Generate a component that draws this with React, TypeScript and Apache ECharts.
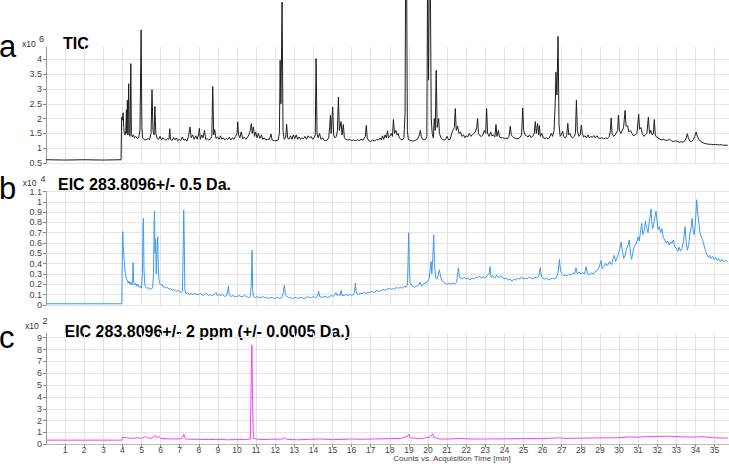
import React, { useEffect, useRef } from 'react';
import * as echarts from 'echarts';

// ---- Data (time in min, counts in panel units) ----
const ticData: [number, number][] = [
  [0, 0.61], [1, 0.6], [2, 0.61], [3, 0.6], [3.93, 0.61],
  [3.96, 2.05], [4.0, 1.95], [4.04, 2.2], [4.07, 1.7], [4.1, 1.5], [4.14, 1.45], [4.18, 1.6], [4.21, 2.3], [4.23, 1.5], [4.26, 2.62], [4.29, 1.45], [4.33, 3.18], [4.36, 1.5], [4.4, 1.4], [4.44, 3.86], [4.47, 1.5], [4.52, 1.38], [4.58, 1.45], [4.63, 1.35], [4.7, 1.4], [4.78, 1.33], [4.85, 1.35], [4.92, 1.6], [4.98, 5.0], [5.02, 1.7], [5.06, 1.35], [5.12, 1.3], [5.2, 1.28], [5.28, 1.3], [5.35, 1.33], [5.42, 1.28], [5.5, 1.5], [5.55, 2.98], [5.6, 1.6], [5.66, 1.45], [5.7, 2.41], [5.75, 1.5], [5.82, 1.33], [5.9, 1.3], [5.97, 1.4],
  [6.05, 1.28], [6.12, 1.35], [6.2, 1.3], [6.28, 1.27], [6.36, 1.32], [6.44, 1.3], [6.48, 1.66], [6.52, 1.3], [6.6, 1.26], [6.68, 1.36], [6.75, 1.28], [6.83, 1.35], [6.9, 1.25], [6.98, 1.3], [7.06, 1.26], [7.14, 1.38], [7.22, 1.27], [7.3, 1.3], [7.38, 1.24], [7.46, 1.4], [7.54, 1.72], [7.6, 1.35], [7.68, 1.45], [7.76, 1.3], [7.84, 1.42], [7.92, 1.3], [8.0, 1.5], [8.03, 1.67], [8.08, 1.3], [8.15, 1.45], [8.22, 1.35], [8.3, 1.6], [8.36, 1.3], [8.44, 1.32], [8.52, 1.28], [8.6, 1.3], [8.68, 1.4], [8.73, 3.09], [8.78, 1.45], [8.83, 1.63], [8.9, 1.33], [8.98, 1.38],
  [9.06, 1.3], [9.14, 1.42], [9.2, 1.3], [9.28, 1.35], [9.36, 1.28], [9.44, 1.33], [9.52, 1.3], [9.6, 1.37], [9.68, 1.28], [9.76, 1.35], [9.84, 1.3], [9.92, 1.4], [10.0, 1.5], [10.04, 1.89], [10.08, 1.45], [10.15, 1.35], [10.22, 1.55], [10.3, 1.32], [10.38, 1.38], [10.46, 1.3], [10.54, 1.36], [10.62, 1.45], [10.7, 1.6], [10.75, 1.83], [10.8, 1.5], [10.86, 1.72], [10.92, 1.4], [10.98, 1.55], [11.05, 1.35], [11.12, 1.5], [11.2, 1.33], [11.28, 1.45], [11.35, 1.3], [11.42, 1.35], [11.5, 1.28], [11.6, 1.3], [11.7, 1.3], [11.78, 1.48], [11.84, 1.28], [11.95, 1.26],
  [12.05, 1.25], [12.15, 1.27], [12.22, 1.5], [12.26, 3.97], [12.3, 2.5], [12.36, 5.94], [12.41, 1.6], [12.47, 1.3], [12.55, 1.35], [12.6, 1.81], [12.65, 1.35], [12.72, 1.3], [12.8, 1.42], [12.88, 1.3], [12.95, 1.45], [13.02, 1.32], [13.1, 1.45], [13.17, 1.3], [13.25, 1.38], [13.32, 1.3], [13.4, 1.35], [13.48, 1.32], [13.56, 1.4], [13.64, 1.3], [13.72, 1.42], [13.8, 1.35], [13.88, 1.4], [13.96, 1.3],
  [14.04, 1.35], [14.1, 1.45], [14.14, 4.03], [14.19, 1.5], [14.25, 1.35], [14.32, 1.5], [14.4, 1.3], [14.48, 1.35], [14.56, 1.27], [14.64, 1.25], [14.72, 1.28], [14.8, 1.35], [14.85, 1.7], [14.89, 2.11], [14.93, 1.5], [15.01, 2.39], [15.06, 1.45], [15.13, 1.35], [15.2, 1.4], [15.26, 1.6], [15.31, 2.73], [15.36, 1.6], [15.45, 1.9], [15.5, 1.45], [15.57, 1.8], [15.62, 1.35], [15.7, 1.3], [15.8, 1.27], [15.9, 1.3],
  [16.0, 1.26], [16.1, 1.28], [16.2, 1.25], [16.3, 1.28], [16.4, 1.26], [16.5, 1.3], [16.6, 1.27], [16.72, 1.4], [16.77, 1.77], [16.82, 1.35], [16.9, 1.25], [17.0, 1.23], [17.1, 1.27], [17.2, 1.24], [17.3, 1.3], [17.4, 1.27], [17.5, 1.35], [17.56, 1.28], [17.62, 1.42], [17.68, 1.3], [17.75, 1.45], [17.82, 1.35], [17.88, 1.59], [17.93, 1.35],
  [18.0, 1.4], [18.08, 1.5], [18.14, 1.4], [18.19, 1.97], [18.25, 1.5], [18.32, 1.6], [18.38, 1.45], [18.44, 1.5], [18.5, 1.35], [18.58, 1.3], [18.66, 1.28], [18.74, 1.35], [18.8, 2.2], [18.83, 7.0], [18.88, 7.0], [18.92, 1.6], [18.97, 1.3], [19.05, 1.27], [19.15, 1.25], [19.25, 1.24], [19.35, 1.27], [19.45, 1.3], [19.55, 1.45], [19.6, 1.6], [19.65, 1.4], [19.72, 1.3], [19.8, 1.28], [19.88, 1.3], [19.94, 1.4],
  [19.98, 7.0], [20.03, 3.3], [20.07, 7.0], [20.12, 7.0], [20.17, 2.0], [20.22, 1.5], [20.28, 1.35], [20.33, 2.0], [20.38, 1.6], [20.43, 3.63], [20.48, 1.7], [20.56, 2.0], [20.6, 1.5], [20.68, 1.35], [20.76, 1.3], [20.84, 1.27], [20.92, 1.3], [21.0, 1.4], [21.08, 1.28], [21.16, 1.3], [21.24, 1.5], [21.3, 1.6], [21.38, 1.7], [21.43, 2.34], [21.48, 1.6], [21.55, 1.75], [21.62, 1.5], [21.7, 1.55], [21.78, 1.4], [21.86, 1.45], [21.94, 1.35],
  [22.0, 1.42], [22.08, 1.38], [22.16, 1.5], [22.24, 1.4], [22.32, 1.45], [22.4, 1.5], [22.48, 1.55], [22.55, 1.7], [22.6, 2.0], [22.64, 1.5], [22.72, 1.42], [22.8, 1.4], [22.88, 1.45], [22.95, 1.6], [23.02, 1.5], [23.07, 2.34], [23.12, 1.5], [23.2, 1.4], [23.28, 1.55], [23.34, 1.42], [23.42, 1.45], [23.5, 1.38], [23.56, 1.8], [23.61, 1.4], [23.69, 1.6], [23.74, 1.38], [23.82, 1.35], [23.9, 1.36],
  [24.0, 1.33], [24.08, 1.34], [24.16, 1.32], [24.24, 1.4], [24.31, 1.75], [24.36, 1.45], [24.42, 1.4], [24.5, 1.35], [24.6, 1.33], [24.7, 1.32], [24.8, 1.35], [24.9, 1.45], [24.96, 2.36], [25.01, 1.6], [25.08, 1.45], [25.16, 1.42], [25.24, 1.38], [25.32, 1.45], [25.4, 1.36], [25.48, 1.4], [25.56, 1.5], [25.62, 1.9], [25.67, 1.5], [25.74, 1.84], [25.79, 1.45], [25.83, 1.76], [25.88, 1.4], [25.96, 1.5],
  [26.04, 1.35], [26.12, 1.33], [26.2, 1.35], [26.28, 1.32], [26.36, 1.36], [26.42, 1.45], [26.46, 1.5], [26.52, 1.4], [26.6, 1.6], [26.66, 2.5], [26.7, 3.57], [26.75, 2.8], [26.81, 4.78], [26.86, 1.8], [26.92, 1.4], [26.98, 1.45], [27.05, 1.57], [27.1, 1.4], [27.18, 1.35], [27.26, 1.42], [27.32, 1.84], [27.37, 1.45], [27.44, 1.5], [27.5, 1.38], [27.58, 1.35], [27.66, 1.4], [27.72, 1.5], [27.77, 2.62], [27.82, 1.6], [27.9, 1.4], [27.97, 1.45],
  [28.03, 1.78], [28.08, 1.5], [28.15, 1.38], [28.22, 1.42], [28.3, 1.35], [28.38, 1.45], [28.45, 1.35], [28.52, 1.4], [28.6, 1.36], [28.68, 1.43], [28.76, 1.35], [28.84, 1.42], [28.92, 1.35], [29.0, 1.33], [29.1, 1.35], [29.2, 1.32], [29.3, 1.34], [29.4, 1.33], [29.5, 1.4], [29.55, 1.6], [29.59, 2.02], [29.64, 1.5], [29.72, 1.4], [29.8, 1.45], [29.88, 1.55], [29.93, 1.6], [29.97, 2.11],
  [30.02, 1.6], [30.1, 1.5], [30.17, 1.6], [30.24, 1.7], [30.32, 2.28], [30.37, 1.75], [30.45, 1.76], [30.52, 1.55], [30.6, 1.6], [30.68, 1.5], [30.76, 1.42], [30.85, 1.45], [30.94, 1.5], [31.03, 2.15], [31.08, 1.64], [31.15, 1.7], [31.22, 1.5], [31.3, 1.4], [31.38, 1.45], [31.46, 1.5], [31.54, 2.05], [31.6, 1.5], [31.66, 1.6], [31.74, 1.45], [31.8, 1.5], [31.85, 1.97], [31.9, 1.45], [31.96, 1.38],
  [32.05, 1.35], [32.15, 1.3], [32.25, 1.28], [32.35, 1.3], [32.45, 1.26], [32.55, 1.27], [32.65, 1.3], [32.75, 1.25], [32.85, 1.22], [32.95, 1.25], [33.05, 1.23], [33.15, 1.2], [33.25, 1.22], [33.35, 1.2], [33.45, 1.25], [33.52, 1.35], [33.58, 1.49], [33.63, 1.35], [33.72, 1.24], [33.8, 1.22], [33.9, 1.3], [33.97, 1.4],
  [34.04, 1.55], [34.1, 1.4], [34.18, 1.3], [34.26, 1.24], [34.35, 1.2], [34.45, 1.17], [34.55, 1.15], [34.65, 1.14], [34.75, 1.13], [34.85, 1.13], [34.95, 1.12], [35.05, 1.13], [35.15, 1.12], [35.25, 1.11], [35.35, 1.12], [35.45, 1.1], [35.55, 1.1], [35.7, 1.1],
];

const eicWideData: [number, number][] = [
  [0, 0.01], [3.97, 0.01], [4.0, 0.6], [4.02, 0.71], [4.05, 0.55], [4.08, 0.47], [4.12, 0.36], [4.16, 0.3], [4.2, 0.26], [4.25, 0.24], [4.3, 0.21], [4.35, 0.23], [4.4, 0.2], [4.45, 0.22], [4.5, 0.19], [4.53, 0.25], [4.56, 0.41], [4.59, 0.22], [4.64, 0.19], [4.7, 0.21], [4.76, 0.18], [4.82, 0.2], [4.88, 0.17], [4.94, 0.18],
  [5.0, 0.16], [5.05, 0.3], [5.08, 0.77], [5.1, 0.84], [5.13, 0.35], [5.17, 0.2], [5.22, 0.17], [5.28, 0.16], [5.34, 0.17], [5.4, 0.15], [5.46, 0.16], [5.52, 0.15], [5.58, 0.17], [5.63, 0.3], [5.66, 0.8], [5.68, 0.91], [5.71, 0.5], [5.74, 0.64], [5.77, 0.3], [5.81, 0.5], [5.85, 0.66], [5.88, 0.35], [5.92, 0.24], [5.97, 0.2],
  [6.02, 0.19], [6.08, 0.2], [6.14, 0.17], [6.2, 0.18], [6.28, 0.16], [6.36, 0.17], [6.44, 0.15], [6.52, 0.16], [6.6, 0.14], [6.68, 0.15], [6.76, 0.14], [6.84, 0.13], [6.92, 0.14], [7.0, 0.13], [7.08, 0.12], [7.14, 0.13], [7.18, 0.5], [7.21, 0.92], [7.24, 0.6], [7.27, 0.15], [7.32, 0.11], [7.4, 0.12], [7.5, 0.1], [7.6, 0.11], [7.7, 0.1], [7.8, 0.11], [7.9, 0.1],
  [8.0, 0.1], [8.1, 0.11], [8.2, 0.09], [8.3, 0.1], [8.4, 0.11], [8.5, 0.09], [8.6, 0.1], [8.7, 0.09], [8.8, 0.1], [8.9, 0.12], [8.96, 0.09], [9.05, 0.1], [9.15, 0.09], [9.25, 0.1], [9.35, 0.08], [9.45, 0.09], [9.52, 0.14], [9.55, 0.18], [9.59, 0.1], [9.68, 0.08], [9.78, 0.09], [9.88, 0.08], [9.98, 0.08],
  [10.1, 0.09], [10.2, 0.08], [10.3, 0.08], [10.4, 0.09], [10.5, 0.08], [10.6, 0.07], [10.7, 0.08], [10.75, 0.2], [10.79, 0.53], [10.82, 0.15], [10.86, 0.08], [10.95, 0.07], [11.05, 0.08], [11.15, 0.07], [11.25, 0.07], [11.35, 0.08], [11.45, 0.07], [11.55, 0.07], [11.65, 0.06], [11.75, 0.07], [11.85, 0.07], [11.95, 0.06],
  [12.05, 0.07], [12.15, 0.07], [12.25, 0.06], [12.35, 0.07], [12.42, 0.12], [12.48, 0.19], [12.53, 0.1], [12.6, 0.08], [12.7, 0.07], [12.8, 0.07], [12.9, 0.06], [13.0, 0.07], [13.1, 0.07], [13.2, 0.06], [13.3, 0.07], [13.4, 0.07], [13.5, 0.06], [13.6, 0.07], [13.7, 0.08], [13.8, 0.07], [13.9, 0.07],
  [14.0, 0.08], [14.1, 0.07], [14.2, 0.08], [14.28, 0.13], [14.33, 0.08], [14.45, 0.07], [14.55, 0.08], [14.65, 0.08], [14.75, 0.07], [14.85, 0.08], [14.95, 0.09], [15.05, 0.08], [15.12, 0.1], [15.18, 0.12], [15.24, 0.09], [15.32, 0.1], [15.4, 0.09], [15.45, 0.14], [15.5, 0.09], [15.6, 0.09], [15.7, 0.1], [15.8, 0.09], [15.9, 0.1],
  [16.0, 0.09], [16.1, 0.1], [16.15, 0.12], [16.2, 0.21], [16.25, 0.11], [16.35, 0.1], [16.45, 0.11], [16.55, 0.11], [16.65, 0.12], [16.75, 0.11], [16.85, 0.12], [16.95, 0.12], [17.05, 0.13], [17.15, 0.12], [17.25, 0.13], [17.35, 0.14], [17.45, 0.13], [17.55, 0.14], [17.65, 0.15], [17.75, 0.14], [17.85, 0.15], [17.95, 0.16],
  [18.05, 0.15], [18.15, 0.16], [18.25, 0.15], [18.35, 0.17], [18.45, 0.16], [18.55, 0.17], [18.65, 0.16], [18.75, 0.18], [18.85, 0.17], [18.93, 0.2], [18.97, 0.55], [18.99, 0.7], [19.02, 0.37], [19.06, 0.22], [19.12, 0.19], [19.2, 0.18], [19.3, 0.17], [19.4, 0.18], [19.5, 0.19], [19.6, 0.22], [19.66, 0.18], [19.75, 0.2], [19.85, 0.21], [19.95, 0.22],
  [20.05, 0.25], [20.12, 0.35], [20.16, 0.42], [20.2, 0.3], [20.25, 0.45], [20.3, 0.68], [20.34, 0.4], [20.4, 0.26], [20.46, 0.25], [20.52, 0.28], [20.6, 0.34], [20.66, 0.27], [20.72, 0.24], [20.8, 0.22], [20.9, 0.21], [21.0, 0.2], [21.1, 0.21], [21.2, 0.2], [21.3, 0.21], [21.4, 0.2], [21.5, 0.22], [21.55, 0.3], [21.59, 0.36], [21.64, 0.28], [21.7, 0.26], [21.8, 0.25], [21.9, 0.27],
  [22.0, 0.25], [22.1, 0.26], [22.2, 0.24], [22.3, 0.26], [22.4, 0.25], [22.5, 0.27], [22.6, 0.26], [22.7, 0.28], [22.8, 0.26], [22.9, 0.27], [23.0, 0.26], [23.1, 0.28], [23.2, 0.3], [23.25, 0.37], [23.3, 0.27], [23.4, 0.28], [23.5, 0.26], [23.6, 0.29], [23.7, 0.26], [23.8, 0.28], [23.9, 0.27],
  [24.0, 0.25], [24.1, 0.26], [24.2, 0.24], [24.3, 0.25], [24.4, 0.23], [24.5, 0.25], [24.6, 0.24], [24.7, 0.26], [24.8, 0.25], [24.9, 0.27], [25.0, 0.25], [25.1, 0.26], [25.2, 0.25], [25.3, 0.27], [25.4, 0.26], [25.5, 0.25], [25.6, 0.27], [25.7, 0.26], [25.8, 0.28], [25.88, 0.36], [25.94, 0.27],
  [26.0, 0.26], [26.1, 0.25], [26.2, 0.26], [26.3, 0.24], [26.4, 0.25], [26.5, 0.26], [26.6, 0.25], [26.7, 0.26], [26.8, 0.3], [26.88, 0.44], [26.94, 0.33], [27.0, 0.3], [27.1, 0.28], [27.2, 0.29], [27.3, 0.28], [27.4, 0.3], [27.5, 0.29], [27.6, 0.31], [27.68, 0.3], [27.75, 0.36], [27.82, 0.3], [27.9, 0.32],
  [28.0, 0.3], [28.1, 0.31], [28.2, 0.3], [28.28, 0.37], [28.35, 0.3], [28.45, 0.29], [28.55, 0.31], [28.65, 0.3], [28.75, 0.32], [28.85, 0.33], [28.95, 0.36], [29.06, 0.43], [29.12, 0.35], [29.2, 0.37], [29.3, 0.4], [29.4, 0.38], [29.5, 0.42], [29.6, 0.39], [29.7, 0.45], [29.76, 0.48], [29.82, 0.42], [29.9, 0.46], [29.98, 0.5],
  [30.05, 0.55], [30.11, 0.61], [30.18, 0.52], [30.25, 0.45], [30.32, 0.48], [30.4, 0.55], [30.48, 0.58], [30.54, 0.63], [30.6, 0.5], [30.66, 0.44], [30.72, 0.5], [30.78, 0.56], [30.85, 0.58], [30.92, 0.6], [31.0, 0.66], [31.06, 0.62], [31.12, 0.7], [31.19, 0.79], [31.25, 0.68], [31.32, 0.72], [31.38, 0.81], [31.45, 0.75], [31.52, 0.7], [31.58, 0.8], [31.65, 0.88], [31.68, 0.93], [31.72, 0.8], [31.76, 0.74], [31.82, 0.78], [31.88, 0.85], [31.94, 0.91], [31.99, 0.82],
  [32.05, 0.73], [32.12, 0.76], [32.18, 0.7], [32.25, 0.74], [32.32, 0.65], [32.4, 0.63], [32.48, 0.6], [32.55, 0.62], [32.62, 0.58], [32.7, 0.61], [32.78, 0.6], [32.85, 0.63], [32.92, 0.56], [33.0, 0.55], [33.08, 0.52], [33.15, 0.56], [33.22, 0.52], [33.3, 0.55], [33.38, 0.62], [33.46, 0.76], [33.52, 0.6], [33.58, 0.53], [33.65, 0.58], [33.72, 0.7], [33.78, 0.75], [33.83, 0.84], [33.88, 0.72], [33.94, 0.68],
  [34.0, 0.8], [34.07, 1.02], [34.12, 0.89], [34.18, 0.8], [34.24, 0.7], [34.3, 0.66], [34.38, 0.63], [34.45, 0.58], [34.52, 0.53], [34.6, 0.49], [34.68, 0.46], [34.75, 0.48], [34.82, 0.45], [34.9, 0.47], [34.98, 0.44], [35.06, 0.46], [35.14, 0.43], [35.22, 0.45], [35.3, 0.42], [35.38, 0.44], [35.46, 0.42], [35.55, 0.43], [35.7, 0.42],
];

const eicNarrowData: [number, number][] = [
  [0, 0.35], [3.97, 0.35], [4.0, 0.6], [4.2, 0.55], [4.5, 0.5], [4.8, 0.55], [5.0, 0.5], [5.15, 0.6], [5.2, 0.7], [5.3, 0.55], [5.5, 0.5], [5.65, 0.65], [5.72, 0.75], [5.8, 0.55], [5.9, 0.7], [6.0, 0.5], [6.3, 0.48], [6.6, 0.45], [7.0, 0.45], [7.15, 0.55], [7.22, 0.85], [7.3, 0.45], [7.6, 0.42], [8.0, 0.42], [8.5, 0.4], [9.0, 0.42], [9.5, 0.38], [10.0, 0.4], [10.5, 0.4], [10.7, 0.45],
  [10.75, 6.0], [10.78, 8.4], [10.82, 3.0], [10.86, 0.5], [11.2, 0.4], [11.8, 0.42], [12.4, 0.45], [12.5, 0.55], [12.6, 0.42], [13.2, 0.38], [13.8, 0.42], [14.3, 0.45], [15.0, 0.4], [15.6, 0.42], [16.0, 0.45], [16.5, 0.42], [17.2, 0.45], [18.0, 0.48], [18.6, 0.5], [18.95, 0.7], [19.0, 0.85], [19.05, 0.55], [19.6, 0.48],
  [20.1, 0.6], [20.2, 0.8], [20.25, 0.9], [20.3, 0.6], [20.6, 0.45], [21.2, 0.45], [21.6, 0.5], [22.2, 0.45], [23.0, 0.45], [24.0, 0.46], [25.0, 0.48], [26.0, 0.48], [26.9, 0.55], [27.1, 0.5], [28.0, 0.52], [29.0, 0.54], [30.0, 0.55], [30.5, 0.62], [31.0, 0.6], [31.5, 0.65], [32.0, 0.66], [32.6, 0.68], [33.2, 0.64], [34.0, 0.6], [34.3, 0.65], [35.0, 0.55], [35.7, 0.52],
];

const panelLetters = ['a', 'b', 'c'];
const panelTitles = ['TIC', 'EIC 283.8096+/- 0.5 Da.', 'EIC 283.8096+/- 2 ppm (+/- 0.0005 Da.)'];
const panelExponents = ['6', '4', '2'];
const xAxisTitle = 'Counts vs. Acquisition Time [min]';

const X_MAX = 35.76;
const FONT = '"Liberation Sans", Arial, sans-serif';
const GRID_COLOR = '#e4e4e4';
const LABEL_COLOR = '#444';

export default function App() {
  const ref = useRef<HTMLDivElement>(null);
  useEffect(() => {
    if (!ref.current) return;
    const chart = echarts.init(ref.current, undefined, { renderer: 'svg' });

    const grids = [
      { left: 46, width: 683, top: 47, height: 116 },
      { left: 46, width: 683, top: 191.5, height: 113.3 },
      { left: 46, width: 683, top: 333, height: 111.3 },
    ];

    const xAxis = [0, 1, 2].map((i) => ({
      type: 'value',
      gridIndex: i,
      min: 0,
      max: X_MAX,
      interval: 1,
      axisLine: { show: i === 2, lineStyle: { color: '#bbb' } },
      axisTick: { show: i === 2, length: 3, lineStyle: { color: '#888' } },
      axisLabel: {
        show: i === 2,
        fontSize: 8.5,
        lineHeight: 9,
        color: LABEL_COLOR,
        fontFamily: FONT,
        margin: 1.5,
        showMinLabel: false,
        showMaxLabel: false,
        formatter: (v: number) => (v === 0 ? '' : String(v)),
      },
      splitLine: { show: true, showMinLine: false, showMaxLine: false, lineStyle: { color: GRID_COLOR, width: 1 } },
    }));

    const yCommon = {
      type: 'value',
      axisLine: { show: true, lineStyle: { color: '#999' } },
      axisTick: { show: true, length: 3, lineStyle: { color: '#888' } },
      splitLine: { show: true, lineStyle: { color: GRID_COLOR, width: 1 } },
    };
    const yLabel = { fontSize: 9, color: LABEL_COLOR, fontFamily: FONT, margin: 4 };

    const yAxis = [
      {
        ...yCommon, gridIndex: 0, min: 0.5, max: 4.42, interval: 0.5,
        axisLabel: { ...yLabel, showMaxLabel: false },
        splitLine: { ...yCommon.splitLine, showMaxLine: false },
      },
      {
        ...yCommon, gridIndex: 1, min: 0, max: 1.1, interval: 0.1,
        axisLabel: { ...yLabel, formatter: (v: number) => String(Math.round(v * 10) / 10) },
      },
      {
        ...yCommon, gridIndex: 2, min: 0, max: 9.4, interval: 1,
        axisLabel: { ...yLabel, showMaxLabel: false },
        splitLine: { ...yCommon.splitLine, showMaxLine: false },
      },
    ];

    const lineSeries = (data: [number, number][], idx: number, color: string, clip: boolean) => ({
      type: 'line',
      xAxisIndex: idx,
      yAxisIndex: idx,
      data,
      showSymbol: false,
      symbol: 'none',
      clip,
      lineStyle: { color, width: 1 },
      z: 3,
    });

    const letterY = [46.5, 188, 337];
    const expY = [
      { x10: 43.7, e: 39, x: 22, ex: 39 },
      { x10: 183, e: 178.7, x: 22.7, ex: 40.5 },
      { x10: 326.3, e: 321, x: 25, ex: 42.5 },
    ];
    const titlePos = [
      { x: 63, y: 43.4 },
      { x: 58, y: 184.2 },
      { x: 64.5, y: 331.9 },
    ];

    const graphics: any[] = [];
    panelLetters.forEach((l, i) => {
      graphics.push({
        type: 'text', x: -1, y: letterY[i],
        style: { text: l, font: `31px ${FONT}`, fill: '#000', verticalAlign: 'middle', align: 'left' },
      });
      graphics.push({
        type: 'text', x: expY[i].x, y: expY[i].x10,
        style: { text: 'x10', font: `8.5px ${FONT}`, fill: '#333', verticalAlign: 'middle', align: 'left' },
      });
      graphics.push({
        type: 'text', x: expY[i].ex, y: expY[i].e,
        style: { text: panelExponents[i], font: `9px ${FONT}`, fill: '#333', verticalAlign: 'middle', align: 'left' },
      });
      graphics.push({
        type: 'text', x: titlePos[i].x, y: titlePos[i].y,
        style: { text: panelTitles[i], font: `bold 16px ${FONT}`, fill: '#000', verticalAlign: 'middle', align: 'left' },
      });
    });
    graphics.push({
      type: 'text', x: 452, y: 458.6,
      style: { text: xAxisTitle, font: `8px ${FONT}`, lineHeight: 8, fill: LABEL_COLOR, verticalAlign: 'middle', align: 'center' },
    });

    chart.setOption({
      animation: false,
      backgroundColor: '#fff',
      grid: grids,
      xAxis,
      yAxis,
      series: [
        lineSeries(ticData, 0, '#1e1e1e', false),
        lineSeries(eicWideData, 1, '#3d9af2', true),
        lineSeries(eicNarrowData, 2, '#ff3cff', true),
      ],
      graphic: graphics,
    } as any);

    return () => chart.dispose();
  }, []);

  return <div ref={ref} style={{ position: 'absolute', left: 0, top: 0, width: 729, height: 464 }} />;
}
